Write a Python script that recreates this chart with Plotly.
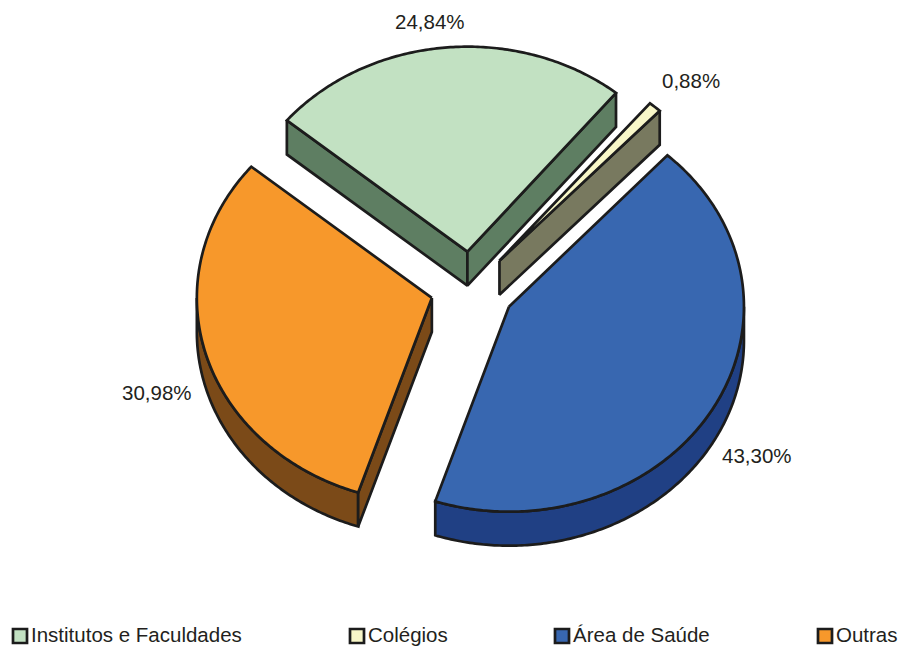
import math
import plotly.graph_objects as go

# --- data ---
categories = ["Institutos e Faculdades", "Colégios", "Área de Saúde", "Outras"]
values = [24.84, 0.88, 43.30, 30.98]

# --- styles / layout ---
top_colors = ["#c2e1c2", "#f8f7c8", "#3867b0", "#f7982b"]
side_colors = ["#5e7e62", "#78795f", "#204084", "#7b4a18"]
EDGE = "#1c1c1c"
CX, CY = 471, 287
RX, RY = 235, 205
EX, EY = 42.8, 36
DEPTH = 34
START = -50.2
nudge_x = [0.5, 0.5, 1, 2]
nudge_y = [0.5, 1, 1.5, 1]
nudge_deg = [0, 0.6, 0, 0]
label_pos = [(430, 21.5), (691, 80.5), (757, 455.5), (157, 392.5)]
legend_x = [12, 349, 554, 817]
LEGEND_Y = 636
FONT = "Liberation Sans, Arial, sans-serif"
TEXT = "#231f20"
LW = 2.7

W, H = 902, 647
fig = go.Figure()


def poly(xs, ys, color):
    fig.add_trace(go.Scatter(
        x=xs + xs[:1], y=ys + ys[:1], mode="lines", fill="toself",
        fillcolor=color, line=dict(color=EDGE, width=LW, simplify=False),
        hoverinfo="skip", showlegend=False))


def pt(ax, ay, deg):
    r = math.radians(deg)
    return ax + RX * math.sin(r), ay - RY * math.cos(r)


angle = START
total = sum(values)
geoms = []
for v in values:
    span = 360 * v / total
    geoms.append((angle, angle + span))
    angle += span

# draw order: back to front
for i in [0, 1, 3, 2]:
    a0, a1 = geoms[i]
    mid = math.radians((a0 + a1) / 2)
    ax = CX + EX * math.sin(mid) + nudge_x[i]
    ay = CY - EY * math.cos(mid) + nudge_y[i]
    a0 += nudge_deg[i]
    a1 += nudge_deg[i]
    n = max(4, int((a1 - a0) * 1.5))
    arc = [a0 + (a1 - a0) * k / n for k in range(n + 1)]
    pts = [pt(ax, ay, d) for d in arc]

    # outer curved wall (front part only)
    lo, hi = max(a0, 90), min(a1, 270)
    if lo < hi:
        m = max(4, int((hi - lo) * 1.5))
        fa = [lo + (hi - lo) * k / m for k in range(m + 1)]
        fp = [pt(ax, ay, d) for d in fa]
        poly([p[0] for p in fp] + [p[0] for p in reversed(fp)],
             [p[1] for p in fp] + [p[1] + DEPTH for p in reversed(fp)],
             side_colors[i])

    # flat cut walls: visible only when they face the viewer
    first, last = pts[0], pts[-1]
    if math.cos(math.radians(a0 - 90)) < 0:
        poly([ax, first[0], first[0], ax], [ay, first[1], first[1] + DEPTH, ay + DEPTH], side_colors[i])
    if math.cos(math.radians(a1 + 90)) < 0:
        poly([ax, last[0], last[0], ax], [ay, last[1], last[1] + DEPTH, ay + DEPTH], side_colors[i])

    # top face
    poly([ax] + [p[0] for p in pts], [ay] + [p[1] for p in pts], top_colors[i])

annotations = []
for v, (lx, ly) in zip(values, label_pos):
    annotations.append(dict(
        x=lx, y=ly, xref="x", yref="y", showarrow=False,
        text=f"{v:.2f}%".replace(".", ","),
        font=dict(family=FONT, size=20.5, color=TEXT)))

shapes = []
for c, lx, col in zip(categories, legend_x, top_colors):
    shapes.append(dict(type="rect", xref="x", yref="y",
                       x0=lx + 1, x1=lx + 15, y0=LEGEND_Y - 7, y1=LEGEND_Y + 7,
                       fillcolor=col, line=dict(color=EDGE, width=LW)))
    annotations.append(dict(
        x=lx + 17, y=LEGEND_Y - 2, xref="x", yref="y", xanchor="left", showarrow=False,
        text=c, font=dict(family=FONT, size=20.5, color=TEXT)))

fig.update_layout(
    width=W, height=H, margin=dict(l=0, r=0, t=0, b=0),
    paper_bgcolor="white", plot_bgcolor="white", showlegend=False,
    xaxis=dict(range=[0, W], visible=False, fixedrange=True),
    yaxis=dict(range=[H, 0], visible=False, fixedrange=True),
    annotations=annotations, shapes=shapes,
)
fig.write_html("out.html", config={"displayModeBar": False},
               post_script="document.body.style.margin='0';document.body.style.overflow='hidden';")
